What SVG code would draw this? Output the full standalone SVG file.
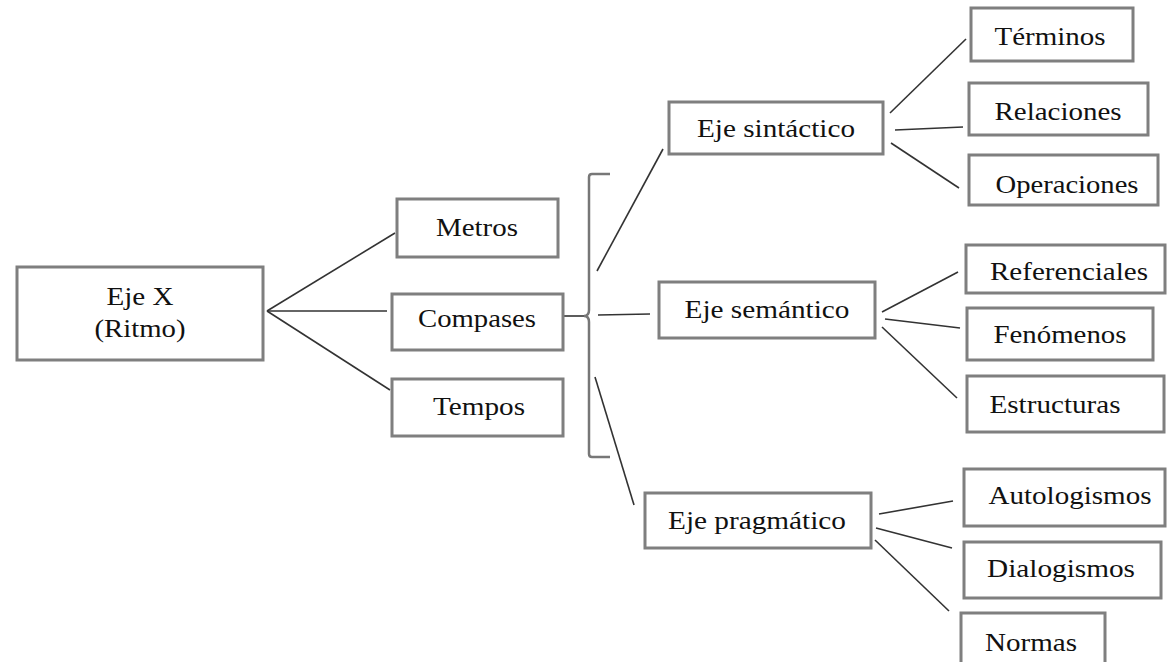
<svg xmlns="http://www.w3.org/2000/svg" width="1168" height="662" viewBox="0 0 1168 662">
<style>
.box{fill:#fff;stroke:#7f7f7f;stroke-width:3}
.t{font-family:"Liberation Serif","Times New Roman",serif;font-size:25px;fill:#111;text-anchor:middle}
.ln{stroke:#333;stroke-width:1.6;fill:none}
.br{stroke:#777;stroke-width:2.5;fill:none}
</style>
<rect width="1168" height="662" fill="#fff"/>
<g id="connectors">
<line class="ln" x1="267" y1="311" x2="395" y2="233"/>
<line class="ln" x1="267" y1="311" x2="387" y2="311"/>
<line class="ln" x1="267" y1="311" x2="390" y2="390"/>
<line class="ln" x1="564" y1="316" x2="584" y2="316"/>
<path class="br" d="M610,174 L592,174 Q589,174 589,177 L589,310 Q589,316 584,316 Q589,316 589,322 L589,454 Q589,457 592,457 L610,457"/>
<line class="ln" x1="597" y1="271" x2="663" y2="149"/>
<line class="ln" x1="598" y1="315" x2="650" y2="314"/>
<line class="ln" x1="595" y1="377" x2="634" y2="505"/>
<line class="ln" x1="890" y1="113" x2="966" y2="39"/>
<line class="ln" x1="895" y1="130" x2="963" y2="127"/>
<line class="ln" x1="891" y1="143" x2="959" y2="188"/>
<line class="ln" x1="882" y1="312" x2="958" y2="272"/>
<line class="ln" x1="885" y1="319" x2="960" y2="328"/>
<line class="ln" x1="882" y1="327" x2="957" y2="398"/>
<line class="ln" x1="879" y1="514" x2="953" y2="501"/>
<line class="ln" x1="876" y1="528" x2="952" y2="548"/>
<line class="ln" x1="875" y1="540" x2="949" y2="611"/>
</g>
<g id="ejeX"><rect class="box" x="17" y="267" width="246" height="93"/><text class="t" x="140" y="305" textLength="67" lengthAdjust="spacingAndGlyphs">Eje X</text><text class="t" x="140" y="337" textLength="91" lengthAdjust="spacingAndGlyphs">(Ritmo)</text></g>
<g id="metros"><rect class="box" x="397" y="199" width="161" height="58"/><text class="t" x="477" y="236" textLength="82" lengthAdjust="spacingAndGlyphs">Metros</text></g>
<g id="compases"><rect class="box" x="392" y="294" width="171" height="56"/><text class="t" x="477" y="327" textLength="118" lengthAdjust="spacingAndGlyphs">Compases</text></g>
<g id="tempos"><rect class="box" x="392" y="379" width="171" height="57"/><text class="t" x="479" y="415" textLength="92" lengthAdjust="spacingAndGlyphs">Tempos</text></g>
<g id="sintactico"><rect class="box" x="669" y="102" width="214" height="52"/><text class="t" x="776" y="137" textLength="158" lengthAdjust="spacingAndGlyphs">Eje sintáctico</text></g>
<g id="semantico"><rect class="box" x="659" y="282" width="216" height="56"/><text class="t" x="767" y="318" textLength="165" lengthAdjust="spacingAndGlyphs">Eje semántico</text></g>
<g id="pragmatico"><rect class="box" x="645" y="493" width="226" height="55"/><text class="t" x="757" y="529" textLength="178" lengthAdjust="spacingAndGlyphs">Eje pragmático</text></g>
<g id="terminos"><rect class="box" x="971" y="8" width="162" height="53"/><text class="t" x="1050" y="45" textLength="111" lengthAdjust="spacingAndGlyphs">Términos</text></g>
<g id="relaciones"><rect class="box" x="969" y="83" width="179" height="52"/><text class="t" x="1058" y="120" textLength="127" lengthAdjust="spacingAndGlyphs">Relaciones</text></g>
<g id="operaciones"><rect class="box" x="969" y="155" width="189" height="50"/><text class="t" x="1067" y="193" textLength="143" lengthAdjust="spacingAndGlyphs">Operaciones</text></g>
<g id="referenciales"><rect class="box" x="966" y="245" width="199" height="48"/><text class="t" x="1069" y="280" textLength="158" lengthAdjust="spacingAndGlyphs">Referenciales</text></g>
<g id="fenomenos"><rect class="box" x="967" y="308" width="186" height="52"/><text class="t" x="1060" y="343" textLength="133" lengthAdjust="spacingAndGlyphs">Fenómenos</text></g>
<g id="estructuras"><rect class="box" x="967" y="376" width="197" height="56"/><text class="t" x="1055" y="413" textLength="131" lengthAdjust="spacingAndGlyphs">Estructuras</text></g>
<g id="autologismos"><rect class="box" x="964" y="469" width="201" height="57"/><text class="t" x="1070" y="504" textLength="163" lengthAdjust="spacingAndGlyphs">Autologismos</text></g>
<g id="dialogismos"><rect class="box" x="964" y="542" width="197" height="56"/><text class="t" x="1061" y="577" textLength="148" lengthAdjust="spacingAndGlyphs">Dialogismos</text></g>
<g id="normas"><rect class="box" x="961" y="613" width="144" height="60"/><text class="t" x="1031" y="651" textLength="92" lengthAdjust="spacingAndGlyphs">Normas</text></g>
</svg>
